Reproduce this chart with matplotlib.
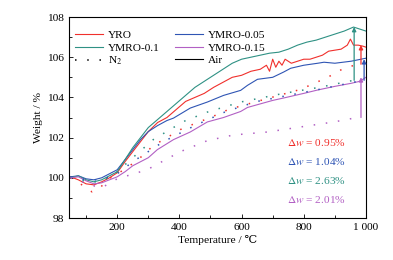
import numpy as np
from matplotlib import pyplot as plt

plt.rcParams['font.family'] = ['Liberation Serif', 'DejaVu Serif', 'Noto Sans CJK SC']
plt.rcParams['mathtext.fontset'] = 'stix'

red = '#f0302c'
blue = '#2f55b4'
teal = '#2f9184'
purple = '#b260c4'

# air (solid)
yro_x = [50, 75, 100, 125, 150, 175, 200, 225, 250, 275, 300, 330, 360, 390, 420, 450, 480, 510, 540, 570,
         600, 630, 660, 680, 690, 700, 710, 720, 730, 740, 760, 780, 800, 820, 840, 860, 880, 900, 920, 940,
         950, 960, 975, 990, 1000]
yro_y = [100.05, 99.9, 99.7, 99.65, 99.8, 100.0, 100.25, 100.8, 101.3, 101.8, 102.3, 102.75, 103.0, 103.4, 103.8,
         104.0, 104.2, 104.5, 104.75, 105.0, 105.1, 105.3, 105.4, 105.6, 105.3, 105.9, 105.5, 105.8, 105.6, 105.9,
         105.7, 105.8, 105.9, 105.9, 106.0, 106.1, 106.3, 106.35, 106.4, 106.6, 106.9, 106.6, 106.6, 106.55, 106.5]

m05_x = [50, 75, 100, 125, 150, 175, 200, 225, 250, 275, 300, 330, 360, 381, 435, 490, 542, 597, 619, 651,
         700, 735, 758, 800, 845, 865, 900, 952, 1000]
m05_y = [100.05, 100.1, 99.95, 99.9, 100.0, 100.2, 100.4, 100.9, 101.4, 101.9, 102.3, 102.6, 102.85, 102.97,
         103.47, 103.77, 104.1, 104.35, 104.6, 104.9, 105.0, 105.26, 105.45, 105.6, 105.7, 105.75, 105.7, 105.8, 105.95]

m10_x = [50, 75, 100, 125, 150, 175, 200, 225, 250, 275, 300, 330, 360, 390, 420, 450, 480, 510, 540, 570,
         600, 630, 660, 690, 720, 750, 780, 810, 840, 870, 900, 930, 960, 980, 1000]
m10_y = [100.0, 100.1, 99.9, 99.8, 99.9, 100.1, 100.3, 100.9, 101.5, 102.0, 102.5, 102.9, 103.3, 103.7, 104.1,
         104.5, 104.8, 105.1, 105.4, 105.7, 105.9, 106.0, 106.1, 106.2, 106.25, 106.4, 106.6, 106.75, 106.85,
         107.0, 107.15, 107.3, 107.5, 107.4, 107.3]

m15_x = [50, 75, 100, 125, 150, 175, 200, 225, 250, 275, 300, 329, 381, 435, 490, 542, 597, 619, 700, 735,
         800, 845, 900, 952, 980, 1000]
m15_y = [100.0, 100.05, 99.85, 99.7, 99.75, 99.9, 100.05, 100.3, 100.6, 100.8, 101.0, 101.4, 101.9, 102.28,
         102.78, 103.0, 103.3, 103.5, 103.85, 103.97, 104.2, 104.37, 104.55, 104.7, 104.8, 105.0]

# N2 (dotted)
yro_n_x = [50, 75, 97, 119, 145, 168, 200, 232, 274, 316, 360, 403, 450, 500, 558, 650, 720, 790, 877, 929, 975]
yro_n_y = [100.0, 99.8, 99.5, 99.3, 99.5, 99.9, 100.2, 100.5, 101.0, 101.6, 102.0, 102.4, 102.7, 103.0, 103.4,
           103.8, 104.1, 104.4, 105.0, 105.45, 105.65]
m05_n_x = [50, 100, 150, 200, 250, 349, 450, 550, 650, 750, 850, 990]
m05_n_y = [100.05, 99.9, 99.9, 100.2, 100.8, 101.8, 102.6, 103.3, 103.8, 104.1, 104.4, 104.85]
m10_n_x = [50, 75, 100, 150, 200, 250, 316, 413, 490, 597, 735, 850, 960]
m10_n_y = [100.0, 99.95, 99.8, 99.8, 100.3, 101.0, 101.9, 102.8, 103.27, 103.77, 104.2, 104.5, 104.85]
m15_n_x = [50, 75, 100, 150, 177, 200, 296, 403, 490, 574, 684, 790, 897, 965]
m15_n_y = [100.0, 99.9, 99.7, 99.5, 99.75, 99.95, 100.4, 101.3, 101.85, 102.13, 102.28, 102.53, 102.78, 102.98]

# mass gain arrows
arrow_x = [984, 994, 962, 984]
arrow_lo = [105.65, 104.85, 104.85, 103.0]
arrow_hi = [106.6, 105.9, 107.5, 105.0]
dw_labels = ['0.95%', '1.04%', '2.63%', '2.01%']
dw_y = [101.75, 100.8, 99.85, 98.9]

fs = 8.2

fig = plt.figure(figsize=(3.93, 2.60), dpi=100)
ax = fig.add_axes([0.1756, 0.1615, 0.7556, 0.7731])

lw = 0.8
dot = (0, (1, 7))
h1, = ax.plot(yro_x, yro_y, color=red, lw=lw)
h2, = ax.plot(m05_x, m05_y, color=blue, lw=lw)
h3, = ax.plot(m10_x, m10_y, color=teal, lw=lw)
h4, = ax.plot(m15_x, m15_y, color=purple, lw=lw)
ax.plot(yro_n_x, yro_n_y, color=red, lw=1.1, ls=dot)
ax.plot(m05_n_x, m05_n_y, color=blue, lw=1.1, ls=dot)
ax.plot(m10_n_x, m10_n_y, color=teal, lw=1.1, ls=dot)
ax.plot(m15_n_x, m15_n_y, color=purple, lw=1.1, ls=dot)
hn, = ax.plot([], [], color='k', lw=1.1, ls=dot)
ha, = ax.plot([], [], color='k', lw=lw)

colors = [red, blue, teal, purple]
for c, x, lo, hi in zip(colors, arrow_x, arrow_lo, arrow_hi):
    ax.annotate('', xy=(x, hi), xytext=(x, lo),
                arrowprops=dict(arrowstyle='-|>', color=c, lw=0.9, mutation_scale=6,
                                shrinkA=0, shrinkB=0))

for c, lab, y in zip(colors, dw_labels, dw_y):
    ax.text(840, y, r'$\Delta w$ = ' + lab, color=c, fontsize=fs, ha='center', va='center')

ax.legend([h1, h3, hn, h2, h4, ha], ['YRO', 'YMRO-0.1', 'N$_2$', 'YMRO-0.05', 'YMRO-0.15', 'Air'],
          ncol=2, loc='upper left', bbox_to_anchor=(0.0, 0.965), frameon=False, fontsize=fs,
          handlelength=2.45, columnspacing=1.3, labelspacing=0.2, borderaxespad=0.15,
          handletextpad=0.45)

ax.set_xlim(45, 1000)
ax.set_ylim(98, 108)
ax.set_xticks([200, 400, 600, 800, 1000])
ax.set_xticklabels(['200', '400', '600', '800', '1 000'])
ax.set_xticks(np.arange(100, 1000, 200), minor=True)
ax.set_yticks(np.arange(98, 109, 2))
ax.set_yticks(np.arange(99, 108, 2), minor=True)
ax.tick_params(which='both', direction='in', labelsize=fs, width=0.6)
ax.tick_params(which='major', length=3)
ax.tick_params(which='minor', length=2)
for s in ax.spines.values():
    s.set_linewidth(0.8)

ax.set_xlabel('Temperature / ℃', fontsize=fs, labelpad=2)
ax.set_ylabel('Weight / %', fontsize=fs, labelpad=3)

fig.savefig('out.png', dpi=100)
